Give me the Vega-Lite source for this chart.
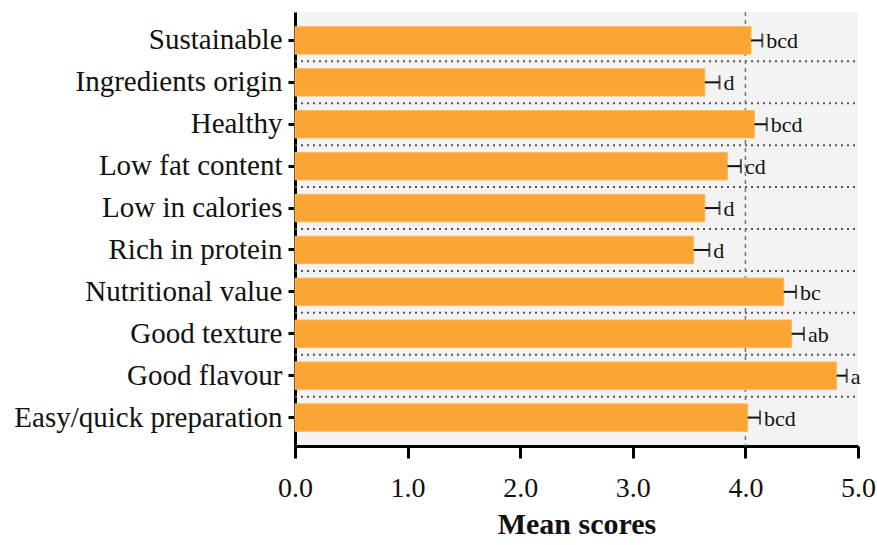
{
  "$schema": "https://vega.github.io/schema/vega-lite/v6.json",
  "width": 563,
  "height": 434,
  "autosize": {"type": "none"},
  "padding": {"left": 295, "top": 12, "right": 19, "bottom": 99},
  "background": "white",
  "config": {
    "view": {"fill": "#f3f3f3", "stroke": null},
    "font": "Liberation Serif"
  },
  "data": {
    "values": [
      {"item": "Sustainable", "mean": 4.05, "err": 0.10, "group": "bcd"},
      {"item": "Ingredients origin", "mean": 3.64, "err": 0.13, "group": "d"},
      {"item": "Healthy", "mean": 4.08, "err": 0.11, "group": "bcd"},
      {"item": "Low fat content", "mean": 3.84, "err": 0.12, "group": "cd"},
      {"item": "Low in calories", "mean": 3.64, "err": 0.13, "group": "d"},
      {"item": "Rich in protein", "mean": 3.54, "err": 0.14, "group": "d"},
      {"item": "Nutritional value", "mean": 4.34, "err": 0.11, "group": "bc"},
      {"item": "Good texture", "mean": 4.41, "err": 0.11, "group": "ab"},
      {"item": "Good flavour", "mean": 4.81, "err": 0.09, "group": "a"},
      {"item": "Easy/quick preparation", "mean": 4.02, "err": 0.11, "group": "bcd"}
    ]
  },
  "encoding": {
    "y": {
      "field": "item",
      "type": "nominal",
      "sort": null,
      "scale": {"paddingInner": 0.344, "paddingOuter": 0.35},
      "axis": {
        "title": null,
        "labelFont": "Liberation Serif",
        "labelFontSize": 29,
        "labelColor": "#111",
        "labelPadding": 6,
        "labelLimit": 400,
        "domainColor": "#000",
        "domainWidth": 3,
        "tickColor": "#000",
        "tickWidth": 3,
        "tickSize": 7,
        "grid": false
      }
    }
  },
  "layer": [
    {
      "transform": [{"filter": "datum.item !== 'Easy/quick preparation'"}],
      "mark": {"type": "rule", "yOffset": 20.95, "strokeDash": [2, 4], "strokeWidth": 2, "color": "#555"},
      "encoding": {
        "x": {"datum": 0},
        "x2": {"datum": 5}
      }
    },
    {
      "data": {"values": [{"ref": 4}]},
      "mark": {"type": "rule", "strokeDash": [4, 4], "strokeWidth": 1.5, "color": "#777"},
      "encoding": {
        "x": {"field": "ref", "type": "quantitative"},
        "y": null
      }
    },
    {
      "mark": {"type": "bar", "color": "#fba535", "stroke": "#fdb860", "strokeWidth": 1},
      "encoding": {
        "x": {
          "field": "mean",
          "type": "quantitative",
          "scale": {"domain": [0, 5], "nice": false, "zero": true},
          "axis": {
            "title": "Mean scores",
            "titleFont": "Liberation Serif",
            "titleFontSize": 30,
            "titleFontWeight": "bold",
            "titleColor": "#111",
            "titlePadding": 7,
            "values": [0, 1, 2, 3, 4, 5],
            "format": ".1f",
            "labelFont": "Liberation Serif",
            "labelFontSize": 28,
            "labelColor": "#111",
            "labelPadding": 16,
            "labelFlush": false,
            "domainColor": "#000",
            "domainWidth": 3,
            "tickColor": "#000",
            "tickWidth": 3,
            "tickSize": 12,
            "grid": false
          }
        }
      }
    },
    {
      "mark": {"type": "rule", "color": "#111", "strokeWidth": 2},
      "encoding": {
        "x": {"field": "mean", "type": "quantitative"},
        "x2": {"field": "hi"}
      },
      "transform": [{"calculate": "datum.mean + datum.err", "as": "hi"}]
    },
    {
      "transform": [{"calculate": "datum.mean + datum.err", "as": "hi"}],
      "mark": {"type": "tick", "orient": "vertical", "color": "#111", "thickness": 2, "size": 14},
      "encoding": {
        "x": {"field": "hi", "type": "quantitative"}
      }
    },
    {
      "transform": [{"calculate": "datum.mean + datum.err", "as": "hi"}],
      "mark": {"type": "text", "align": "left", "baseline": "middle", "dx": 4, "dy": 1, "font": "Liberation Serif", "fontSize": 22, "color": "#111"},
      "encoding": {
        "x": {"field": "hi", "type": "quantitative"},
        "text": {"field": "group"}
      }
    }
  ]
}
